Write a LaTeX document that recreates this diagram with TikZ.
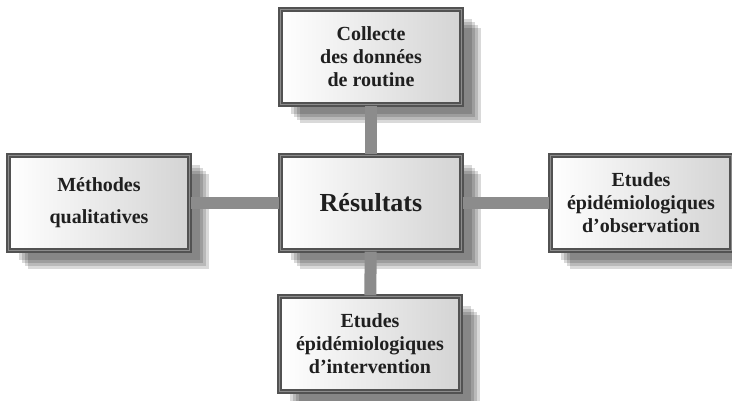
\documentclass[tikz,border=0pt]{standalone}
\usepackage{fontspec}
\setmainfont{Liberation Serif}
\usetikzlibrary{shadows}
\tikzset{
  ombre/.style={drop shadow={shadow xshift=#1pt, shadow yshift=-#1pt, fill=black, opacity=.15}},
  bloc/.style={draw=black!68, line width=2.4pt, double=black!45, double distance=1pt,
    left color=white, right color=black!17, text=black!88,
    minimum width=181pt, minimum height=95pt, align=center,
    font=\bfseries\fontsize{20}{23}\selectfont,
    ombre=19, ombre=16, ombre=13, ombre=10},
  lien/.style={draw=black!45, line width=12pt}
}
\begin{document}
\begin{tikzpicture}[x=1pt,y=1pt]
  \useasboundingbox (0,0) rectangle (732,401);
  \node[bloc] (res) at (371,198) {\fontsize{26}{28}\selectfont Résultats};
  \node[bloc] (haut) at (371,344) {Collecte\\des données\\de routine};
  \node[bloc] (gauche) at (99,198) {Méthodes\\[9pt]qualitatives};
  \node[bloc] (droite) at (641,198) {Etudes\\épidémiologiques\\d’observation};
  \node[bloc] (bas) at (370,57) {Etudes\\épidémiologiques\\d’intervention};
  \draw[lien] (haut) -- (res);
  \draw[lien] (gauche) -- (res);
  \draw[lien] (res) -- (droite);
  \draw[lien] (res) -- (bas);
\end{tikzpicture}
\end{document}
